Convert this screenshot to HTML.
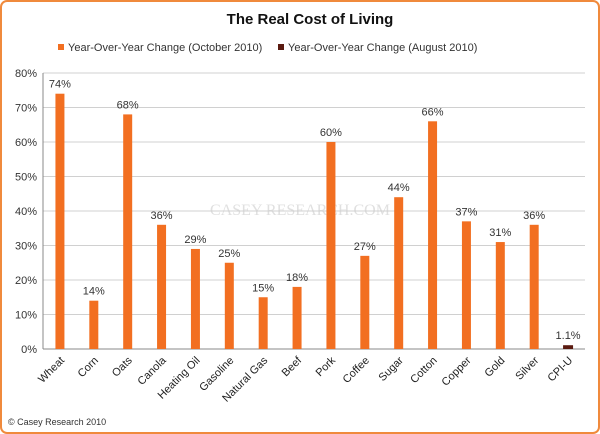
<!DOCTYPE html>
<html><head><meta charset="utf-8"><style>
body{margin:0;background:#fff;}
svg{display:block;font-family:"Liberation Sans",sans-serif;}
</style></head><body>
<svg id="c" width="600" height="434">
<rect x="1" y="1" width="598" height="432" rx="6" fill="#fff" stroke="#f08a3c" stroke-width="2"/>
<text x="310" y="24" text-anchor="middle" font-size="15" font-weight="bold" fill="#111">The Real Cost of Living</text>
<g>
<rect x="58" y="44" width="6" height="6" fill="#f26f21"/>
<text x="68" y="51" font-size="11" fill="#333">Year-Over-Year  Change (October 2010)</text>
<rect x="278" y="44" width="6" height="6" fill="#5a1a10"/>
<text x="288" y="51" font-size="11" fill="#333">Year-Over-Year  Change (August 2010)</text>
</g>
<text x="300" y="215" text-anchor="middle" font-size="16" fill="#e0e0e0" font-family="Liberation Serif,serif">CASEY RESEARCH.COM</text>
<g id="grid"></g><g id="bars"></g><g id="labels"></g>
<text x="8" y="425" font-size="9" fill="#333">© Casey Research 2010</text>
</svg>
<script>
const categories=["Wheat","Corn","Oats","Canola","Heating Oil","Gasoline","Natural Gas","Beef","Pork","Coffee","Sugar","Cotton","Copper","Gold","Silver","CPI-U"];
const values=[74,14,68,36,29,25,15,18,60,27,44,66,37,31,36,1.1];
const valueLabels=["74%","14%","68%","36%","29%","25%","15%","18%","60%","27%","44%","66%","37%","31%","36%","1.1%"];
const ticks=[0,10,20,30,40,50,60,70,80];
const NS="http://www.w3.org/2000/svg";
const x0=43,x1=585,y0=349,y1=73,vmax=80;
const band=(x1-x0)/categories.length;
const y=v=>y0-(v/vmax)*(y0-y1);
const xc=i=>x0+band*(i+0.5);
function mk(t,a,p){const e=document.createElementNS(NS,t);for(const k in a)e.setAttribute(k,a[k]);p.appendChild(e);return e;}
const g=document.getElementById('grid'),b=document.getElementById('bars'),l=document.getElementById('labels');
ticks.forEach(t=>{
 const ln=mk('line',{x1:x0,x2:x1,y1:y(t),y2:y(t),stroke:t===0?'#888':'#d0d0d0','stroke-width':1},g);
 
 
 const tx=mk('text',{x:x0-6,y:y(t)+4,'text-anchor':'end','font-size':11,fill:'#333'},g);
 tx.textContent=t+'%';
 
 
});
mk('line',{x1:x0,x2:x0,y1:y1,y2:y0,stroke:'#888'},g);
categories.forEach((c,i)=>{
 const last=i===categories.length-1;
 const bw=last?10:9;
 const r=mk('rect',{x:xc(i)-bw/2,y:y(values[i]),width:bw,height:y0-y(values[i]),fill:last?'#5a1a10':'#f26f21'},b);
 
 
 const vl=mk('text',{x:xc(i),y:y(values[i])-6,'text-anchor':'middle','font-size':11,fill:'#333'},l);
 vl.textContent=valueLabels[i];
 
 
 const cl=mk('text',{x:0,y:0,'text-anchor':'end','font-size':11,fill:'#222',transform:`translate(${xc(i)+5},${y0+12}) rotate(-45)`},l);
 cl.textContent=c;
 
 
});
</script>
</body></html>
